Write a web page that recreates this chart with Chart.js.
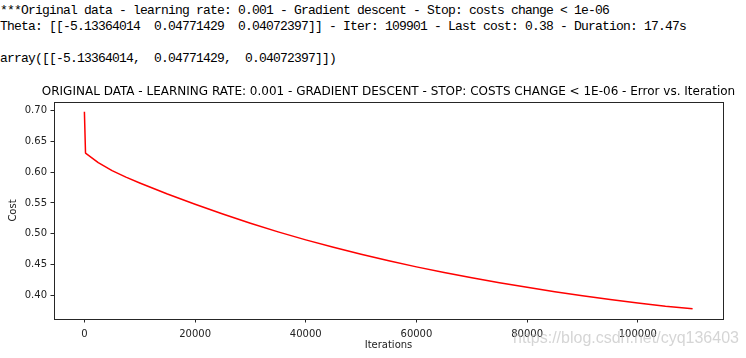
<!DOCTYPE html>
<html>
<head>
<meta charset="utf-8">
<script src="https://cdn.jsdelivr.net/npm/chart.js@4/dist/chart.umd.min.js"></script>
<style>
  html, body { margin: 0; padding: 0; background: #fff; width: 746px; height: 358px; overflow: hidden; }
  #c { position: absolute; left: 0; top: 0; }
  .out { position: absolute; left: 0; font-family: "Liberation Mono", "DejaVu Sans Mono", monospace; font-size: 13px; letter-spacing: -0.8px; line-height: 16px; color: #000; white-space: pre; }
  #wm { position: absolute; left: 513px; top: 329px; font-family: "Liberation Sans", Arial, sans-serif; font-size: 16px; color: rgba(185,185,185,0.6); white-space: pre; }
</style>
</head>
<body>
<div class="out" style="top:3px">***Original data - learning rate: 0.001 - Gradient descent - Stop: costs change &lt; 1e-06</div>
<div class="out" style="top:19px">Theta: [[-5.13364014  0.04771429  0.04072397]] - Iter: 109901 - Last cost: 0.38 - Duration: 17.47s</div>
<div class="out" style="top:51px">array([[-5.13364014,  0.04771429,  0.04072397]])</div>
<canvas id="c" width="746" height="358"></canvas>
<div id="wm">https://blog.csdn.net/cyq136403</div>
<script>
const chartTitle = "ORIGINAL DATA - LEARNING RATE: 0.001 - GRADIENT DESCENT - STOP: COSTS CHANGE < 1E-06 - Error vs. Iteration";
const iterations = [0, 200, 2500, 5000, 7500, 10000, 15000, 20000, 25000, 30000, 35000, 40000, 45000, 50000,
  55000, 60000, 65000, 70000, 75000, 80000, 85000, 90000, 95000, 100000, 105000, 109901];
const costs = [0.698, 0.631, 0.6155, 0.6025, 0.592, 0.5825, 0.5645, 0.548, 0.532, 0.517, 0.503, 0.490, 0.478, 0.4666,
  0.456, 0.4462, 0.437, 0.4284, 0.4204, 0.4129, 0.4059, 0.3993, 0.3932, 0.3875, 0.3822, 0.378];
const xTicks = [0, 20000, 40000, 60000, 80000, 100000];
const yTicks = [0.40, 0.45, 0.50, 0.55, 0.60, 0.65, 0.70];
const xLabel = "Iterations";
const yLabel = "Cost";

const boxPlugin = {
  id: 'box',
  afterDraw(chart) {
    const a = chart.chartArea, ctx = chart.ctx;
    ctx.save();
    ctx.strokeStyle = '#262626';
    ctx.lineWidth = 1;
    ctx.strokeRect(Math.round(a.left) + 0.5, Math.round(a.top) + 0.5, Math.round(a.right - a.left), Math.round(a.bottom - a.top));
    ctx.fillStyle = '#000';
    ctx.font = '12px "DejaVu Sans"';
    ctx.textAlign = 'center';
    ctx.textBaseline = 'middle';
    ctx.fillText(chartTitle, (a.left + a.right) / 2, a.top - 10);
    ctx.restore();
  }
};

const tickFont = { family: "DejaVu Sans", size: 10 };
new Chart(document.getElementById('c'), {
  type: 'line',
  data: {
    datasets: [{
      data: iterations.map((x, i) => ({ x: x, y: costs[i] })),
      borderColor: '#ff0000',
      borderWidth: 1.5,
      pointRadius: 0,
      tension: 0,
      borderJoinStyle: 'round',
      fill: false
    }]
  },
  plugins: [boxPlugin],
  options: {
    responsive: false,
    animation: false,
    devicePixelRatio: 1,
    layout: { padding: { top: 102, left: 0, right: 23, bottom: 0 } },
    plugins: {
      legend: { display: false },
      tooltip: { enabled: false },
      title: { display: false }
    },
    scales: {
      x: {
        type: 'linear',
        min: -5495,
        max: 115396,
        afterBuildTicks: s => { s.ticks = xTicks.map(v => ({ value: v })); },
        afterFit: s => { s.height = 39; },
        grid: { display: true, drawOnChartArea: false, drawTicks: true, tickLength: 3.5, color: '#262626', tickWidth: 1 },
        border: { display: true, color: '#262626', width: 1 },
        ticks: { color: '#222', font: tickFont, padding: 5.5, maxRotation: 0, autoSkip: false, callback: v => String(v) },
        title: { display: true, text: xLabel, color: '#222', font: { family: "DejaVu Sans", size: 10, lineHeight: 1.2 }, padding: { top: 0, bottom: 6.5 } }
      },
      y: {
        type: 'linear',
        min: 0.3615,
        max: 0.714,
        afterBuildTicks: s => { s.ticks = yTicks.map(v => ({ value: v })); },
        afterFit: s => { s.width = 54; },
        grid: { display: true, drawOnChartArea: false, drawTicks: true, tickLength: 3.5, color: '#262626', tickWidth: 1 },
        border: { display: true, color: '#262626', width: 1 },
        ticks: { color: '#222', font: tickFont, padding: 3.5, autoSkip: false, callback: v => Number(v).toFixed(2) },
        title: { display: true, text: yLabel, color: '#222', font: { family: "DejaVu Sans", size: 10, lineHeight: 1.2 }, padding: { top: 7.5, bottom: 0 } }
      }
    }
  }
});
</script>
</body>
</html>
